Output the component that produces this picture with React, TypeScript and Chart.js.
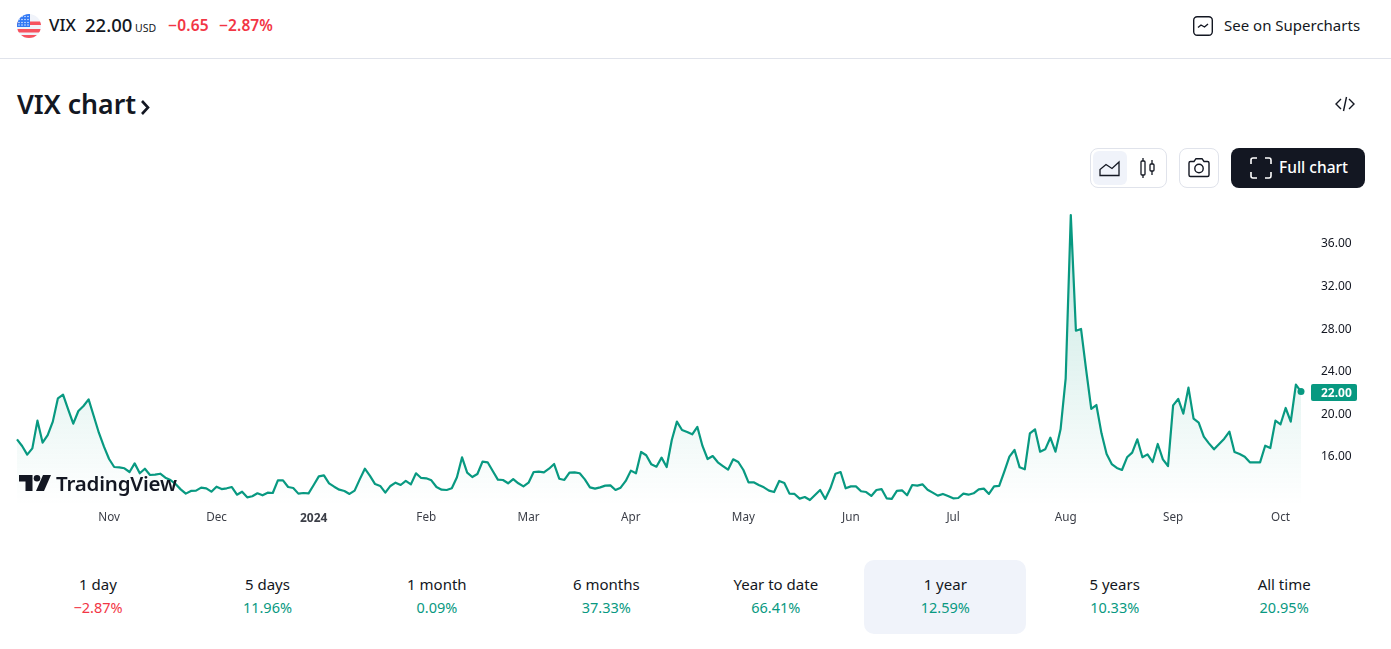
import React, { useEffect, useRef } from "react";
import { Chart, registerables } from "chart.js";

Chart.register(...registerables);

const octNovCloses = [17.52,16.89,16.08,16.67,19.27,17.21,17.92,19.18,21.37,21.71,20.33,18.99,20.18,20.65,21.27,19.71,18.14,16.83,15.67,14.92,14.89,14.80,14.45,15.26,14.33,14.76,14.17,14.20,14.29,13.92,13.70,13.32,12.82,12.42,12.67,12.70,12.98,12.92,12.60,13.07,12.85,12.92,13.04,12.32,12.60,12.07,12.17,12.45,12.26,12.51,12.48,13.67,13.67,13.04,12.95,12.42,12.48,12.45,13.23,14.04,14.14,13.39,13.07,12.79,12.67,12.39];
const janAprCloses = [12.70,13.76,14.76,14.08,13.32,13.14,12.51,13.14,13.45,13.23,13.61,13.29,14.33,13.89,13.86,13.67,13.04,12.79,12.76,12.92,13.95,15.83,14.39,13.98,14.26,15.42,15.36,14.54,13.73,13.70,13.39,13.79,13.39,13.10,13.45,14.45,14.48,14.42,14.76,15.20,13.82,13.70,14.39,14.42,14.33,13.76,13.01,12.89,13.01,13.17,13.20,12.76,12.98,13.61,14.58,14.33,16.33,16.02,15.17,14.95,15.80,14.92,17.46,19.18,18.39,18.21,17.99,18.68];
const mayJulCloses = [16.9,15.67,15.95,15.36,15.01,14.67,15.64,15.39,14.64,13.48,13.48,13.23,13.01,12.70,12.57,13.61,13.42,12.42,12.39,11.95,12.10,11.82,12.29,12.76,11.92,12.92,14.29,14.45,12.92,13.10,13.10,12.64,12.57,12.20,12.76,12.85,11.98,11.92,12.67,12.73,12.26,13.23,13.17,13.29,12.79,12.51,12.23,12.39,12.20,11.98,12.01,12.42,12.32,12.45,12.82,12.89,12.39,13.10,13.14,14.48];
const julOctCloses = [15.89,16.52,14.89,14.70,18.08,18.46,16.36,16.58,17.67,16.36,18.46,23.25,38.58,27.72,27.88,24.03,20.37,20.74,18.08,16.14,15.20,14.83,14.64,15.83,16.27,17.52,15.83,16.11,15.39,17.08,15.64,15.01,20.71,21.31,19.93,22.37,19.46,19.08,17.77,17.14,16.58,17.08,17.58,18.24,16.33,16.14,15.89,15.36,15.36,15.36,16.92,16.70,19.27,18.93,20.46,19.18,22.65,22.00];

const closes = [...octNovCloses, ...janAprCloses, ...mayJulCloses, ...julOctCloses];
const sessionLabels = closes.map((_, i) => String(i));

const monthTickIndex = [18, 39, 58, 80, 100, 120, 142, 163, 183, 205, 226, 247];
const monthTickLabels = ["Nov", "Dec", "2024", "Feb", "Mar", "Apr", "May", "Jun", "Jul", "Aug", "Sep", "Oct"];
const priceTicks = [16, 20, 24, 28, 32, 36];

const rangeNames = ["1 day", "5 days", "1 month", "6 months", "Year to date", "1 year", "5 years", "All time"];
const rangeChanges = ["\u22122.87%", "11.96%", "0.09%", "37.33%", "66.41%", "12.59%", "10.33%", "20.95%"];

const GREEN = "#089981";
const RED = "#f23645";
const INK = "#131722";
const FONT = '"Noto Sans", sans-serif';

const lastPricePlugin = {
  id: "lastPrice",
  afterDraw(chart: any) {
    const { ctx, scales } = chart;
    const last = closes[closes.length - 1];
    const y = scales.y.getPixelForValue(last);
    ctx.save();
    ctx.fillStyle = GREEN;
    ctx.beginPath();
    ctx.roundRect(1311, y - 7.5, 46, 17, 2);
    ctx.fill();
    ctx.fillStyle = "#ffffff";
    ctx.font = `bold 12px ${FONT}`;
    ctx.textAlign = "left";
    ctx.textBaseline = "middle";
    ctx.fillText(last.toFixed(2), 1321, y + 1.5);
    ctx.restore();
  },
};

function abs(left: number, top: number, extra: any = {}) {
  return { position: "absolute", left, top, whiteSpace: "nowrap", ...extra } as React.CSSProperties;
}

export default function App() {
  const ref = useRef<HTMLCanvasElement>(null);

  useEffect(() => {
    const chart = new Chart(ref.current as HTMLCanvasElement, {
      type: "line",
      data: {
        labels: sessionLabels,
        datasets: [
          {
            data: closes,
            borderColor: GREEN,
            borderWidth: 2.2,
            tension: 0,
            clip: false as any,
            borderJoinStyle: "round",
            pointRadius: (c: any) => (c.dataIndex === closes.length - 1 ? 3.5 : 0),
            pointBackgroundColor: GREEN,
            pointBorderWidth: 0,
            fill: "start",
            backgroundColor: (c: any) => {
              const area = c.chart.chartArea;
              if (!area) return "rgba(8,153,129,0.1)";
              const g = c.chart.ctx.createLinearGradient(0, area.top, 0, area.bottom);
              g.addColorStop(0, "rgba(8,153,129,0.24)");
              g.addColorStop(1, "rgba(8,153,129,0)");
              return g;
            },
          },
        ],
      },
      options: {
        responsive: false,
        animation: false,
        layout: { padding: { left: 17, top: 7.2, right: 0, bottom: 0 } },
        plugins: { legend: { display: false }, tooltip: { enabled: false } },
        scales: {
          x: {
            type: "category",
            offset: false,
            grid: { display: false, drawTicks: false },
            border: { display: false },
            afterBuildTicks: (s: any) => {
              s.ticks = monthTickIndex.map((value) => ({ value }));
            },
            afterFit: (s: any) => {
              s.height = 25;
            },
            ticks: {
              autoSkip: false,
              maxRotation: 0,
              padding: 6,
              color: "#3b3e47",
              font: (c: any) =>
                c.tick && monthTickLabels[monthTickIndex.indexOf(c.tick.value)] === "2024"
                  ? { family: FONT, size: 12, weight: "bold" }
                  : { family: FONT, size: 11.7 },
              callback: (value: any) => monthTickLabels[monthTickIndex.indexOf(Number(value))],
            } as any,
          },
          y: {
            position: "right",
            min: 11.352,
            max: 39.314,
            grid: { display: false, drawTicks: true, tickLength: 20 },
            border: { display: false },
            afterBuildTicks: (s: any) => {
              s.ticks = priceTicks.map((value) => ({ value }));
            },
            afterFit: (s: any) => {
              s.width = 90;
            },
            ticks: {
              padding: 0,
              color: "#131722",
              font: { family: FONT, size: 12, lineHeight: "3px" },
              callback: (value: any) => ["", Number(value).toFixed(2)],
            },
          },
        },
      },
      plugins: [lastPricePlugin],
    } as any);
    return () => chart.destroy();
  }, []);

  return (
    <div style={{ position: "absolute", left: 0, top: 0, width: 1391, height: 649, overflow: "hidden", background: "#fff", fontFamily: FONT, color: INK }}>
      {/* header */}
      <svg style={abs(17, 14)} width="24" height="24" viewBox="0 0 24 24">
        <defs>
          <clipPath id="flagClip"><circle cx="12" cy="12" r="12" /></clipPath>
        </defs>
        <g clipPath="url(#flagClip)">
          <rect width="24" height="24" fill="#f0f3fa" />
          <rect y="7.5" width="24" height="3.5" fill="#f7525f" />
          <rect y="15" width="24" height="3.5" fill="#f7525f" />
          <rect y="21" width="24" height="3" fill="#f7525f" />
          <rect width="13" height="13" fill="#3179f5" />
          {[2, 5, 8, 11].map((x) => [2.5, 5.5, 8.5, 11].map((y) => <rect key={`${x}-${y}`} x={x - 0.6} y={y - 0.6} width="1.2" height="1.2" fill="#fff" />))}
        </g>
      </svg>
      <div style={abs(49, 13, { fontSize: 17, fontWeight: 500, lineHeight: "24px" })}>VIX</div>
      <div style={abs(85, 13, { fontSize: 18.5, fontWeight: 500, lineHeight: "24px" })}>22.00</div>
      <div style={abs(135, 21, { fontSize: 10.5, lineHeight: "14px" })}>USD</div>
      <div style={abs(168, 13, { fontSize: 15.5, fontWeight: 600, lineHeight: "24px", color: RED, letterSpacing: 0.2 })}>{"\u22120.65"}</div>
      <div style={abs(219, 13, { fontSize: 15.5, fontWeight: 600, lineHeight: "24px", color: RED, letterSpacing: 0.1 })}>{"\u22122.87%"}</div>

      <svg style={abs(1192, 15)} width="22" height="22" viewBox="0 0 22 22" fill="none" stroke={INK} strokeWidth="1.4">
        <rect x="1.7" y="1.7" width="18.6" height="18.6" rx="3.5" />
        <path d="M6 12.5 L9 10 L12.5 12 L16 9" />
      </svg>
      <div style={abs(1224, 14, { fontSize: 15, lineHeight: "22px" })}>See on Supercharts</div>
      <div style={abs(0, 58, { width: 1391, height: 1, background: "#e0e3eb" })} />

      <div style={abs(17, 85, { fontSize: 26.7, fontWeight: 600, lineHeight: "38px" })}>VIX chart</div>
      <svg style={abs(139, 98)} width="12" height="18" viewBox="0 0 12 18" fill="none" stroke={INK} strokeWidth="2.6">
        <path d="M3 3 L9 9.5 L3 16" />
      </svg>
      <svg style={abs(1334, 93)} width="22" height="22" viewBox="0 0 22 22" fill="none" stroke={INK} strokeWidth="1.4">
        <path d="M7 6 L2 11 L7 16 M15 6 L20 11 L15 16 M12.5 4 L9.5 18" />
      </svg>

      {/* toolbar */}
      <div style={abs(1090, 148, { width: 77, height: 40, boxSizing: "border-box", border: "1px solid #e0e3eb", borderRadius: 8 })} />
      <div style={abs(1093, 151, { width: 34, height: 34, background: "#f0f3fa", borderRadius: 6 })} />
      <svg style={abs(1099, 159)} width="22" height="18" viewBox="0 0 22 18" fill="none" stroke={INK} strokeWidth="1.3">
        <path d="M1 16.5 V10.5 L7 5.5 L13 9.5 L20 3 V16.5 Z" />
      </svg>
      <svg style={abs(1139, 157)} width="18" height="22" viewBox="0 0 18 22" fill="none" stroke={INK} strokeWidth="1.3">
        <rect x="2" y="4" width="4" height="14" rx="1" />
        <path d="M4 1 V4 M4 18 V21 M13 3 V7 M13 14 V18" />
        <rect x="11" y="7" width="4" height="7" rx="1" />
      </svg>
      <div style={abs(1179, 148, { width: 40, height: 40, boxSizing: "border-box", border: "1px solid #e0e3eb", borderRadius: 8 })} />
      <svg style={abs(1187, 157)} width="24" height="22" viewBox="0 0 24 22" fill="none" stroke={INK} strokeWidth="1.4">
        <path d="M2 6 Q2 4.5 3.5 4.5 H7 L9 1.7 H15 L17 4.5 H20.5 Q22 4.5 22 6 V18 Q22 19.5 20.5 19.5 H3.5 Q2 19.5 2 18 Z" />
        <circle cx="12" cy="11.5" r="4.2" />
      </svg>
      <div style={abs(1231, 148, { width: 134, height: 40, background: INK, borderRadius: 8 })} />
      <svg style={abs(1250, 157)} width="22" height="22" viewBox="0 0 22 22" fill="none" stroke="#fff" strokeWidth="1.6">
        <path d="M1 7 V3 Q1 1 3 1 H7 M15 1 H19 Q21 1 21 3 V7 M21 15 V19 Q21 21 19 21 H15 M7 21 H3 Q1 21 1 19 V15" />
      </svg>
      <div style={abs(1279, 155, { fontSize: 15.5, fontWeight: 500, lineHeight: "24px", color: "#fff" })}>Full chart</div>

      {/* chart */}
      <canvas ref={ref} width={1391} height={330} style={{ position: "absolute", left: 0, top: 200, width: 1391, height: 330 }} />

      {/* watermark */}
      <svg style={abs(19, 474)} width="32" height="18" viewBox="0 0 32 18" fill={INK}>
        <path d="M0 1 H13.5 V17 H6.5 V7.5 H0 Z" />
        <circle cx="18" cy="4.3" r="3.3" />
        <path d="M24 1 H32 L25 17 H17 Z" />
      </svg>
      <div style={abs(56, 469, { fontSize: 20.5, fontWeight: 600, lineHeight: "28px", letterSpacing: -0.2 })}>TradingView</div>

      {/* ranges */}
      <div style={abs(864, 560, { width: 162, height: 74, background: "#f0f3fa", borderRadius: 10 })} />
      {rangeNames.map((name, i) => {
        const cx = 98 + i * 169.45;
        return (
          <React.Fragment key={name}>
            <div style={abs(cx - 80, 573, { width: 160, textAlign: "center", fontSize: 15, lineHeight: "22px" })}>{name}</div>
            <div style={abs(cx - 80, 596, { width: 160, textAlign: "center", fontSize: 14.5, lineHeight: "22px", color: rangeChanges[i].startsWith("\u2212") ? RED : GREEN })}>{rangeChanges[i]}</div>
          </React.Fragment>
        );
      })}
    </div>
  );
}
